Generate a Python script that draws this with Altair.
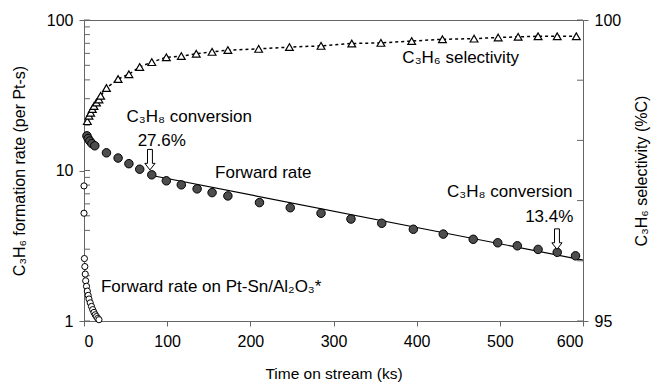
import altair as alt
import pandas as pd

# ---------------- data ----------------
sel_time = [4, 6, 8, 10, 12, 15, 18, 20, 27, 41, 54, 67, 81.5, 99, 117, 135, 154, 173,
            210, 247, 285, 322, 357, 394, 431, 469, 498, 522, 546, 569, 592]
sel_value = [98.32, 98.41, 98.46, 98.52, 98.57, 98.63, 98.68, 98.74, 98.87, 99.02, 99.10,
             99.22, 99.30, 99.38, 99.40, 99.44, 99.47, 99.50, 99.52, 99.55, 99.57, 99.61,
             99.62, 99.65, 99.68, 99.69, 99.71, 99.72, 99.73, 99.73, 99.73]

rate_time = [3.5, 5, 7, 9.5, 13, 27, 41, 54, 67, 81.5, 99, 117, 136, 154, 173, 211, 248,
             285, 321, 358, 396, 432, 468, 497.5, 521, 546, 569, 591]
rate_value = [17.0, 16.3, 15.7, 15.1, 14.6, 13.1, 12.1, 11.1, 10.2, 9.36, 8.54, 8.03, 7.55,
              7.13, 6.78, 6.12, 5.66, 5.20, 4.76, 4.46, 4.07, 3.78, 3.49, 3.31, 3.16, 2.99,
              2.86, 2.71]

ptsn_time = [0, 0, 0.5, 1, 1.5, 2, 3, 4, 5, 6, 7.5, 9, 10.5, 12, 13.5, 15, 16.5, 18]
ptsn_value = [7.9, 5.2, 2.6, 2.3, 2.05, 1.85, 1.7, 1.58, 1.48, 1.4, 1.32, 1.25, 1.19, 1.14,
              1.1, 1.07, 1.04, 1.02]

fit_time = [80, 600]
fit_value = [9.3, 2.54]

arrow_time = [79.3, 568.7]
arrow_rate = [11.8, 3.5]

label_text = ["C₃H₈ conversion", "27.6%", "Forward rate", "C₃H₈ conversion", "13.4%",
              "C₃H₆ selectivity"]
label_time = [126.6, 93.5, 215.6, 512, 559.4, 453]
label_rate = [22.8, 15.8, 9.6, 7.24, 4.94, 56.1]

ptsn_label = ["Forward rate on Pt-Sn/Al₂O₃*"]
ptsn_label_time = [20.4]
ptsn_label_rate = [1.67]

x_ticks = [0, 100, 200, 300, 400, 500, 600]
left_major = [1, 10, 100]
left_minor = [2, 3, 4, 5, 6, 7, 8, 9, 20, 30, 40, 50, 60, 70, 80, 90]
right_ticks = [95, 96, 97, 98, 99, 100]

# ---------------- chart ----------------
FONT = "Liberation Sans"
W, H = 499, 301
AXC = "#666666"

x_scale = alt.Scale(domain=[0, 600], nice=False)
yl_scale = alt.Scale(type="log", domain=[1, 100], nice=False)
yr_scale = alt.Scale(domain=[95, 100], nice=False, zero=False)

x_axis = alt.Axis(values=x_ticks, title="Time on stream (ks)", format="d",
                  titleFontSize=15.5, titleX=W / 2, titleY=52, titleAlign="center",
                  titleBaseline="middle", labelPadding=7)
yl_axis = alt.Axis(values=left_major, format="d", title="C₃H₆ formation rate (per Pt-s)",
                   titleAngle=270, titleX=-65, titleY=H / 2, titleAlign="center",
                   titleBaseline="middle", labelPadding=6)
yr_axis = alt.Axis(orient="right", values=[95, 100], format="d",
                   title="C₃H₆ selectivity (%C)", titleAngle=270, titleX=58, titleY=H / 2,
                   titleAlign="center", titleBaseline="middle", labelPadding=6)


def X(field):
    return alt.X(field, type="quantitative", scale=x_scale, axis=x_axis)


def YL(field):
    return alt.Y(field, type="quantitative", scale=yl_scale, axis=yl_axis)


def YR(field):
    return alt.Y(field, type="quantitative", scale=yr_scale, axis=yr_axis)


df_sel = pd.DataFrame({"t": sel_time, "v": sel_value})
df_rate = pd.DataFrame({"t": rate_time, "v": rate_value})
df_ptsn = pd.DataFrame({"t": ptsn_time, "v": ptsn_value})
df_fit = pd.DataFrame({"t": fit_time, "v": fit_value})
df_arrow = pd.DataFrame({"t": arrow_time, "v": arrow_rate})
df_lab = pd.DataFrame({"t": label_time, "v": label_rate, "s": label_text})
df_lab2 = pd.DataFrame({"t": ptsn_label_time, "v": ptsn_label_rate, "s": ptsn_label})
df_lmaj = pd.DataFrame({"v": left_major})
df_lmin = pd.DataFrame({"v": left_minor})
df_rt = pd.DataFrame({"v": right_ticks})

ARROW = "M-0.24,-1 L0.24,-1 L0.24,0.36 L0.5,0.36 L0,1 L-0.5,0.36 L-0.24,0.36 Z"

minor_ticks = alt.Chart(df_lmin).mark_rule(color=AXC, strokeWidth=1).encode(
    x=alt.value(0), x2=alt.value(6), y=YL("v"))
major_ticks = alt.Chart(df_lmaj).mark_rule(color=AXC, strokeWidth=1).encode(
    x=alt.value(0), x2=alt.value(6), y=YL("v"))
fit = alt.Chart(df_fit).mark_line(color="black", strokeWidth=1.2).encode(
    x=X("t"), y=YL("v"))
rate = alt.Chart(df_rate).mark_point(shape="circle", filled=True, fill="#4d4d4d",
                                     stroke="black", strokeWidth=1, size=72,
                                     opacity=1).encode(x=X("t"), y=YL("v"))
ptsn = alt.Chart(df_ptsn).mark_point(shape="circle", filled=True, fill="white",
                                     stroke="black", strokeWidth=1, size=38,
                                     opacity=1).encode(x=X("t"), y=YL("v"))
arrows = alt.Chart(df_arrow).mark_point(shape=ARROW, filled=True, fill="white",
                                        stroke="black", strokeWidth=1, size=420,
                                        opacity=1).encode(x=X("t"), y=YL("v"))
labels = alt.Chart(df_lab).mark_text(font=FONT, fontSize=17, align="center",
                                     baseline="middle", color="black").encode(
    x=X("t"), y=YL("v"), text="s:N")
labels2 = alt.Chart(df_lab2).mark_text(font=FONT, fontSize=17, align="left",
                                       baseline="middle", color="black").encode(
    x=X("t"), y=YL("v"), text="s:N")

left = alt.layer(minor_ticks, major_ticks, fit, rate, ptsn, arrows, labels, labels2)

right_ticks_l = alt.Chart(df_rt).mark_rule(color=AXC, strokeWidth=1).encode(
    x=alt.value(W - 6), x2=alt.value(W), y=YR("v"))
sel_line = alt.Chart(df_sel).mark_line(color="black", strokeWidth=1.5,
                                       strokeDash=[3, 3]).encode(
    x=X("t"), y=YR("v"), order="t:Q")
sel_pts = alt.Chart(df_sel).mark_point(shape="triangle-up", filled=True, fill="white",
                                       stroke="black", strokeWidth=1.2, size=60,
                                       opacity=1).encode(x=X("t"), y=YR("v"))
right = alt.layer(right_ticks_l, sel_line, sel_pts)

chart = alt.layer(left, right).resolve_scale(y="independent").properties(
    width=W, height=H,
    background="white",
    autosize=alt.AutoSizeParams(type="none"),
    padding={"left": 84, "top": 20, "right": 69, "bottom": 61},
).configure_view(stroke=AXC, strokeWidth=1).configure_axis(
    labelFont=FONT, titleFont=FONT, labelFontSize=16, titleFontSize=16,
    titleFontWeight="normal", labelColor="black", titleColor="black",
    domainColor=AXC, tickColor=AXC, grid=False, tickSize=5,
)

chart.save("out.html", embed_options={"renderer": "svg", "actions": False})
